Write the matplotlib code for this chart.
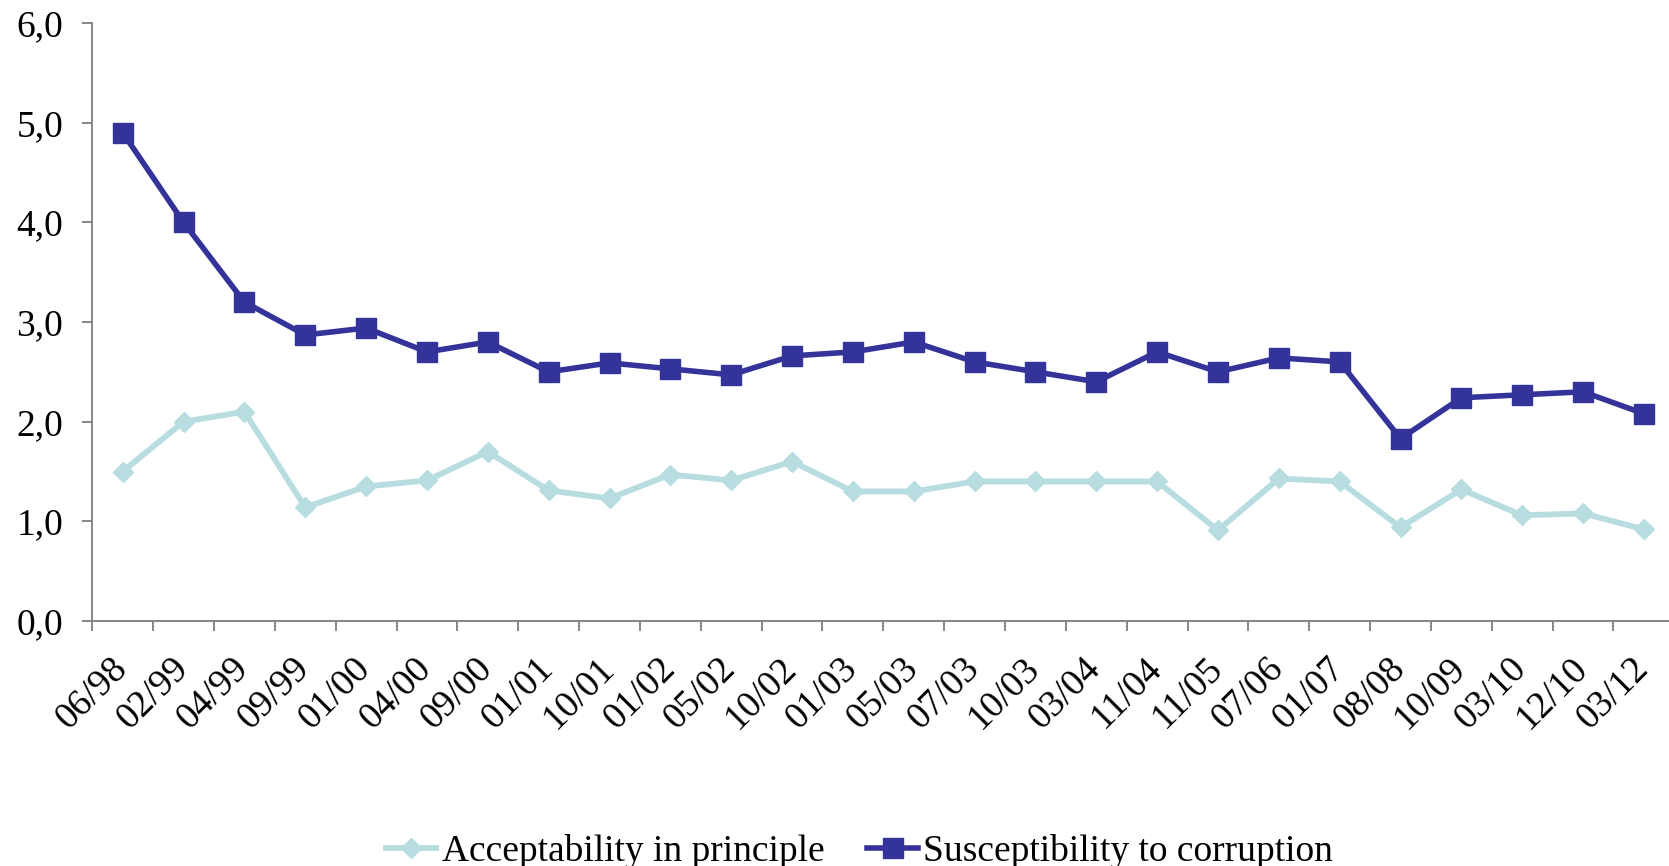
import matplotlib
matplotlib.use("Agg")
import matplotlib.pyplot as plt
import matplotlib.transforms as mtransforms
from matplotlib.ticker import FixedLocator, FuncFormatter

plt.rcParams['font.family'] = ['Liberation Serif', 'DejaVu Serif']

# Survey waves
periods = ["06/98", "02/99", "04/99", "09/99", "01/00", "04/00", "09/00",
           "01/01", "10/01", "01/02", "05/02", "10/02", "01/03", "05/03",
           "07/03", "10/03", "03/04", "11/04", "11/05", "07/06", "01/07",
           "08/08", "10/09", "03/10", "12/10", "03/12"]

acceptability = [1.50, 2.00, 2.10, 1.14, 1.35, 1.41, 1.70, 1.31, 1.23, 1.47,
                 1.41, 1.60, 1.30, 1.30, 1.40, 1.40, 1.40, 1.40, 0.91, 1.43,
                 1.40, 0.94, 1.32, 1.06, 1.08, 0.92]

susceptibility = [4.90, 4.00, 3.20, 2.87, 2.94, 2.70, 2.80, 2.50, 2.59, 2.53,
                  2.47, 2.66, 2.70, 2.80, 2.60, 2.50, 2.40, 2.70, 2.50, 2.64,
                  2.60, 1.83, 2.24, 2.27, 2.30, 2.08]

series_names = ["Acceptability in principle", "Susceptibility to corruption"]

light = "#B7DDE0"
dark = "#333399"
axis_grey = "#868686"
fs = 27

fig = plt.figure(figsize=(16.69, 8.66), dpi=100)
ax = fig.add_axes([0.0553, 0.2829, 0.9479, 0.6905])

x = list(range(len(periods)))
ax.plot(x, acceptability, color=light, lw=4.2, marker="D", ms=10.5,
        mec=light, mfc=light, label=series_names[0], solid_joinstyle="miter")
ax.plot(x, susceptibility, color=dark, lw=4.0, marker="s", ms=14.5,
        mec=dark, mfc=dark, label=series_names[1], solid_joinstyle="miter")

ax.set_xlim(-0.5, len(periods) - 0.5)
ax.set_ylim(0, 6)

# y axis
ax.set_yticks([0, 1, 2, 3, 4, 5, 6])
ax.yaxis.set_major_formatter(FuncFormatter(lambda v, p: f"{v:.1f}".replace(".", ",")))
ax.tick_params(axis="y", direction="out", length=7, width=1.4, color=axis_grey,
               labelsize=fs, pad=14)

# x axis: tick marks on category boundaries, labels at category centres
ax.xaxis.set_major_locator(FixedLocator([i - 0.5 for i in range(len(periods) + 1)]))
ax.xaxis.set_major_formatter(FuncFormatter(lambda v, p: ""))
ax.xaxis.set_minor_locator(FixedLocator(x))
ax.set_xticklabels(periods, minor=True)
ax.tick_params(axis="x", which="major", direction="out", length=7, width=1.4,
               color=axis_grey)
ax.tick_params(axis="x", which="minor", length=0, labelsize=fs, pad=0)
offset = mtransforms.ScaledTranslation(4.3 / 72, -35 / 72, fig.dpi_scale_trans)
for lbl in ax.get_xticklabels(minor=True):
    lbl.set_rotation(45)
    lbl.set_ha("right")
    lbl.set_va("baseline")
    lbl.set_rotation_mode("anchor")
    lbl.set_transform(lbl.get_transform() + offset)

for side in ("top", "right"):
    ax.spines[side].set_visible(False)
for side in ("left", "bottom"):
    ax.spines[side].set_color(axis_grey)
    ax.spines[side].set_linewidth(1.4)

fig.legend(loc="center", bbox_to_anchor=(0.515, 0.017), ncol=2, frameon=False,
           fontsize=fs, handlelength=1.35, handletextpad=0.14, columnspacing=1.15,
           borderpad=0, borderaxespad=0)

fig.savefig("out.png", dpi=100)
